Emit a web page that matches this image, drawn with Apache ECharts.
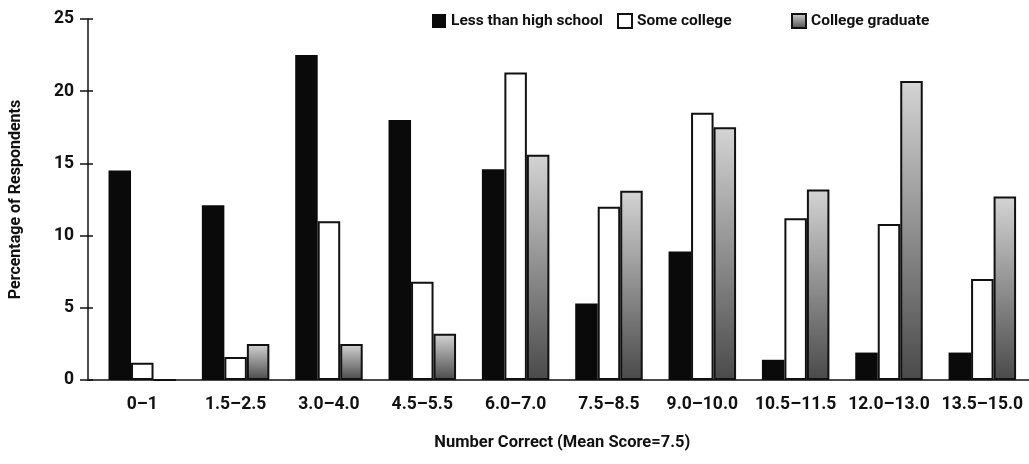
<!DOCTYPE html>
<html><head><meta charset="utf-8">
<script src="https://cdn.jsdelivr.net/npm/echarts@6/dist/echarts.min.js"></script>
<style>html,body{margin:0;padding:0;background:#fff}#c{width:1029px;height:464px}</style>
</head><body><div id="c"></div>
<script>
const categories = ['0\u20131','1.5\u20132.5','3.0\u20134.0','4.5\u20135.5','6.0\u20137.0','7.5\u20138.5','9.0\u201310.0','10.5\u201311.5','12.0\u201313.0','13.5\u201315.0'];
const lessThanHighSchool = [14.5, 12.1, 22.5, 18.0, 14.6, 5.3, 8.9, 1.4, 1.9, 1.9];
const someCollege = [1.2, 1.6, 11.0, 6.8, 21.3, 12.0, 18.5, 11.2, 10.8, 7.0];
const collegeGraduate = [0, 2.5, 2.5, 3.2, 15.6, 13.1, 17.5, 13.2, 20.7, 12.7];
const seriesNames = ['Less than high school', 'Some college', 'College graduate'];
const yMin = 0, yMax = 25, yStep = 5;

const FONT = "Roboto,'DejaVu Sans Condensed',sans-serif";
const chart = echarts.init(document.getElementById('c'), null, {renderer: 'canvas'});
const gradFill = new echarts.graphic.LinearGradient(0, 0, 0, 1, [
  {offset: 0, color: '#d4d4d4'}, {offset: 1, color: '#4a4a4a'}
]);
const textBase = {fontFamily: FONT, fontWeight: 'bold', color: '#111'};
const legendText = Object.assign({fontSize: 15.5, padding: [1,0,0,0]}, textBase);

chart.setOption({
  animation: false,
  backgroundColor: '#fff',
  grid: [
    {left: 82, right: 0, top: 19, bottom: 84},
    {left: 95.6, right: -4.9, top: 19, bottom: 84}
  ],
  legend: [
    {left: 427, top: 8, icon: 'rect', itemWidth: 14, itemHeight: 14, itemGap: 0, data: [seriesNames[0]], textStyle: legendText},
    {left: 612, top: 8, icon: 'rect', itemWidth: 14, itemHeight: 14, data: [seriesNames[1]], textStyle: legendText},
    {left: 786, top: 8, icon: 'rect', itemWidth: 14, itemHeight: 14, data: [seriesNames[2]], textStyle: legendText}
  ],
  xAxis: [
    {gridIndex: 0, type: 'value', min: 0, max: 1, axisLine: {show: true, lineStyle: {color: '#111', width: 1.5}},
     axisTick: {show: false}, axisLabel: {show: false}, splitLine: {show: false}},
    {gridIndex: 1, type: 'category', data: categories, axisLine: {show: false}, axisTick: {show: false},
     axisLabel: Object.assign({fontSize: 17.5, margin: 16, interval: 0}, textBase),
     name: 'Number Correct (Mean Score=7.5)', nameLocation: 'middle', nameGap: 54,
     nameTextStyle: Object.assign({fontSize: 16.5}, textBase)}
  ],
  yAxis: [
    {gridIndex: 0, type: 'value', position: 'left', min: yMin, max: yMax, interval: yStep,
     axisLine: {show: true, lineStyle: {color: '#111', width: 1.5}},
     axisTick: {show: true, length: 8, lineStyle: {color: '#111', width: 1.5}},
     axisLabel: Object.assign({fontSize: 17.5, margin: 14}, textBase),
     splitLine: {show: false},
     name: 'Percentage of Respondents', nameLocation: 'middle', nameGap: 64, nameRotate: 90,
     nameTextStyle: Object.assign({fontSize: 16}, textBase)},
    {gridIndex: 0, type: 'value', position: 'left', offset: 0, min: yMin, max: yMax, interval: yStep,
     axisLine: {show: false}, axisTick: {show: true, inside: true, length: 5, lineStyle: {color: '#111', width: 1.5}},
     axisLabel: {show: false}, splitLine: {show: false}},
    {gridIndex: 1, type: 'value', min: yMin, max: yMax, interval: yStep, show: false}
  ],
  series: [
    {name: seriesNames[0], type: 'bar', xAxisIndex: 1, yAxisIndex: 2, data: lessThanHighSchool,
     barWidth: 22.5, barGap: '0%', itemStyle: {color: '#0a0a0a', borderColor: '#0a0a0a', borderWidth: 0}},
    {name: seriesNames[1], type: 'bar', xAxisIndex: 1, yAxisIndex: 2, data: someCollege,
     barWidth: 22.5, barGap: '0%', itemStyle: {color: '#ffffff', borderColor: '#111', borderWidth: 2}},
    {name: seriesNames[2], type: 'bar', xAxisIndex: 1, yAxisIndex: 2, data: collegeGraduate,
     barWidth: 22.5, barGap: '0%', itemStyle: {color: gradFill, borderColor: '#111', borderWidth: 2}}
  ]
});
</script></body></html>
